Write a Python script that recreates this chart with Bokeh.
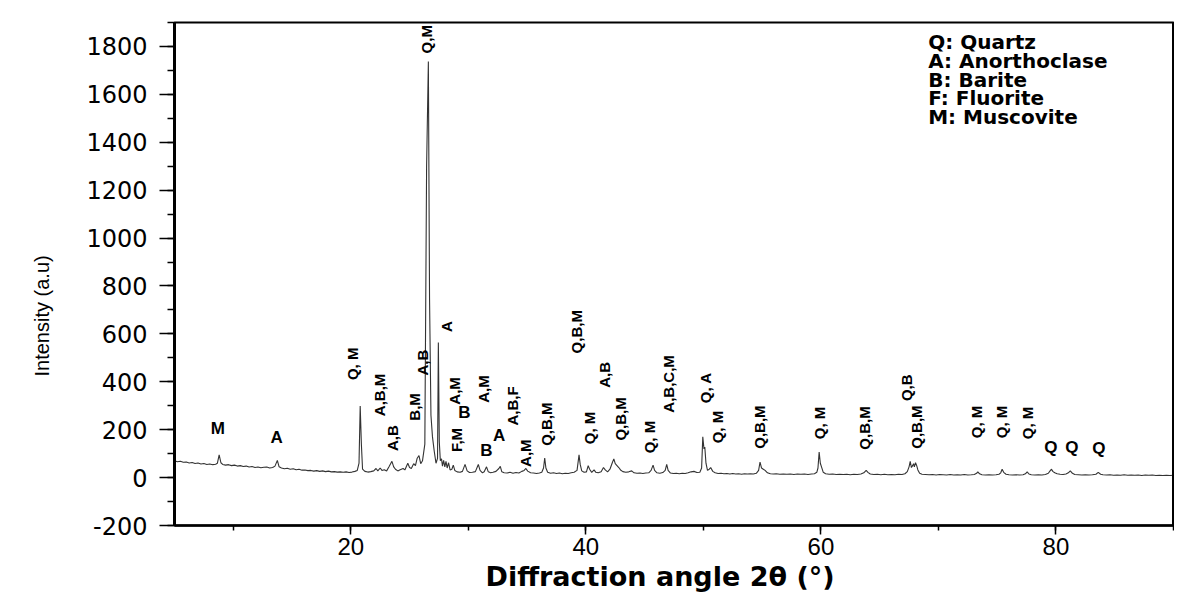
import math
from bokeh.plotting import figure
from bokeh.models import (SingleIntervalTicker, LinearAxis, FixedTicker, Range1d,
                          PrintfTickFormatter, Title)
from bokeh.core.properties import value
from bokeh.embed import file_html
from bokeh.resources import INLINE

# ---- XRD pattern ----
two_theta = [
    5.0, 5.25, 5.5, 5.75, 6.0, 6.25, 6.5, 6.75, 7.0, 7.25, 7.5, 7.75,
    8.0, 8.25, 8.5, 8.65, 8.8, 8.95, 9.1, 9.35, 9.6, 9.85, 10.1, 10.35,
    10.6, 10.85, 11.1, 11.35, 11.6, 11.85, 12.1, 12.35, 12.6, 12.85, 13.1, 13.35,
    13.55, 13.75, 13.9, 14.1, 14.35, 14.6, 14.85, 15.1, 15.35, 15.6, 15.85, 16.1,
    16.35, 16.6, 16.85, 17.1, 17.35, 17.6, 17.85, 18.1, 18.35, 18.6, 18.85, 19.1,
    19.35, 19.6, 19.85, 20.1, 20.35, 20.55, 20.7, 20.8, 20.9, 21.0, 21.2, 21.45,
    21.7, 21.95, 22.15, 22.3, 22.5, 22.65, 22.85, 23.05, 23.25, 23.5, 23.65, 23.8,
    24.0, 24.2, 24.45, 24.6, 24.85, 25.0, 25.15, 25.35, 25.5, 25.65, 25.8, 25.95,
    26.1, 26.3, 26.45, 26.6, 26.7, 26.82, 26.95, 27.1, 27.25, 27.38, 27.45, 27.53,
    27.62, 27.72, 27.8, 27.9, 28.0, 28.1, 28.2, 28.32, 28.45, 28.6, 28.72, 28.85,
    29.05, 29.3, 29.5, 29.72, 29.9, 30.1, 30.35, 30.6, 30.85, 31.0, 31.2, 31.35,
    31.55, 31.7, 31.9, 32.1, 32.35, 32.6, 32.72, 32.85, 33.05, 33.3, 33.55, 33.8,
    34.05, 34.3, 34.55, 34.75, 34.9, 35.05, 35.3, 35.55, 35.8, 36.05, 36.25, 36.4,
    36.5, 36.6, 36.75, 37.0, 37.25, 37.5, 37.75, 38.0, 38.25, 38.5, 38.75, 39.0,
    39.25, 39.42, 39.52, 39.65, 39.85, 40.05, 40.2, 40.32, 40.5, 40.7, 40.85, 41.05,
    41.3, 41.5, 41.65, 41.85, 42.05, 42.25, 42.38, 42.5, 42.65, 42.8, 42.95, 43.15,
    43.4, 43.65, 43.9, 44.1, 44.35, 44.6, 44.85, 45.1, 45.35, 45.55, 45.72, 45.85,
    46.05, 46.3, 46.55, 46.75, 46.88, 47.0, 47.2, 47.45, 47.7, 47.95, 48.2, 48.45,
    48.7, 48.95, 49.2, 49.45, 49.7, 49.85, 49.95, 50.05, 50.12, 50.22, 50.35, 50.5,
    50.62, 50.8, 51.0, 51.25, 51.5, 51.75, 52.0, 52.25, 52.5, 52.75, 53.0, 53.25,
    53.5, 53.75, 54.0, 54.25, 54.5, 54.7, 54.82, 54.95, 55.1, 55.25, 55.45, 55.7,
    55.95, 56.2, 56.5, 56.8, 57.1, 57.4, 57.7, 58.0, 58.3, 58.6, 58.9, 59.2,
    59.45, 59.65, 59.75, 59.85, 59.95, 60.05, 60.2, 60.4, 60.7, 61.0, 61.3, 61.6,
    61.9, 62.2, 62.5, 62.8, 63.1, 63.4, 63.65, 63.85, 64.0, 64.2, 64.5, 64.8,
    65.1, 65.4, 65.7, 66.0, 66.3, 66.6, 66.9, 67.15, 67.35, 67.5, 67.6, 67.7,
    67.8, 67.88, 67.95, 68.05, 68.15, 68.25, 68.4, 68.6, 68.9, 69.2, 69.5, 69.8,
    70.1, 70.4, 70.7, 71.0, 71.3, 71.6, 71.9, 72.2, 72.5, 72.8, 73.05, 73.25,
    73.35, 73.5, 73.7, 74.0, 74.3, 74.6, 74.9, 75.15, 75.3, 75.42, 75.55, 75.75,
    76.0, 76.3, 76.6, 76.9, 77.2, 77.4, 77.55, 77.7, 77.9, 78.2, 78.5, 78.8,
    79.1, 79.35, 79.5, 79.62, 79.75, 79.9, 80.1, 80.35, 80.6, 80.85, 81.05, 81.22,
    81.4, 81.6, 81.9, 82.2, 82.5, 82.8, 83.1, 83.4, 83.6, 83.8, 84.0, 84.3,
    84.6, 84.9, 85.2, 85.5, 85.8, 86.1, 86.4, 86.7, 87.0, 87.3, 87.6, 87.9,
    88.2, 88.5, 88.8, 89.1, 89.4, 89.7, 90.0,
]
intensity = [
    70, 66, 68, 64, 65, 61, 63, 59, 61, 57, 59, 55,
    57, 54, 56, 60, 95, 62, 55, 52, 54, 50, 52, 48,
    50, 46, 48, 44, 46, 42, 44, 41, 43, 44, 40, 42,
    48, 72, 45, 40, 37, 39, 35, 37, 33, 35, 31, 32,
    29, 30, 27, 29, 26, 28, 25, 27, 24, 25, 23, 24,
    22, 24, 21, 23, 26, 30, 60, 299, 140, 35, 26, 23,
    25, 28, 38, 28, 40, 30, 33, 28, 45, 68, 45, 35,
    28, 33, 38, 32, 60, 42, 38, 58, 50, 81, 92, 58,
    70, 140, 1300, 1737, 750, 260, 170, 110, 60, 80, 564, 150,
    70, 78, 48, 72, 45, 68, 40, 62, 32, 35, 52, 30,
    24, 22, 26, 55, 28, 21, 22, 25, 55, 30, 20, 24,
    45, 24, 20, 22, 26, 38, 47, 24, 20, 19, 22, 18,
    21, 19, 26, 30, 38, 27, 20, 19, 17, 19, 22, 40,
    82, 40, 22, 18, 20, 17, 19, 16, 18, 17, 20, 22,
    30, 95, 55, 28, 22, 24, 50, 35, 22, 32, 22, 20,
    24, 42, 32, 24, 35, 62, 78, 58, 50, 42, 32, 25,
    22, 24, 28, 20, 18, 19, 17, 19, 20, 30, 52, 30,
    20, 18, 21, 30, 55, 30, 19, 17, 18, 16, 18, 17,
    20, 24, 26, 21, 22, 40, 170, 120, 128, 60, 30, 35,
    42, 26, 20, 17, 18, 16, 17, 15, 17, 15, 16, 14,
    16, 15, 16, 15, 18, 30, 65, 40, 35, 30, 20, 16,
    15, 16, 14, 15, 14, 15, 13, 15, 14, 15, 13, 15,
    16, 22, 40, 107, 60, 45, 22, 16, 14, 15, 13, 14,
    13, 14, 12, 14, 13, 15, 20, 30, 22, 15, 13, 14,
    12, 14, 12, 13, 12, 14, 13, 16, 25, 45, 68, 42,
    50, 58, 45, 62, 50, 32, 18, 14, 13, 12, 13, 11,
    13, 12, 11, 13, 11, 12, 11, 13, 11, 12, 13, 18,
    24, 16, 12, 11, 12, 11, 12, 14, 20, 35, 22, 14,
    12, 11, 12, 11, 12, 16, 24, 15, 12, 11, 12, 11,
    13, 18, 28, 35, 25, 20, 16, 14, 13, 15, 20, 28,
    18, 13, 12, 11, 12, 11, 12, 14, 22, 14, 12, 11,
    12, 10, 11, 10, 12, 10, 11, 10, 11, 9, 11, 10,
    11, 9, 10, 9, 10, 9, 10,
]

# ---- peak labels: rotated (vertical) ----
rot_text = ["Q,M", "Q, M", "A,B,M", "A,B", "B,M", "A,B", "A", "A,M", "F,M", "A,M",
            "A,B,F", "A,M", "Q,B,M", "Q,B,M", "Q, M", "A,B", "Q,B,M", "Q, M", "A,B,C,M", "Q, A",
            "Q, M", "Q,B,M", "Q, M", "Q,B,M", "Q,B", "Q,B,M", "Q, M", "Q, M", "Q, M"]
rot_x = [26.43, 20.15, 22.44, 23.55, 25.42, 26.10, 28.13, 28.81, 28.98, 31.27,
         33.73, 34.84, 36.62, 39.17, 40.27, 41.55, 42.99, 45.45, 47.07, 50.20,
         51.22, 54.79, 59.88, 63.70, 67.26, 68.11, 73.20, 75.33, 77.54]
rot_y = [1830, 475, 345, 165, 295, 480, 630, 362, 157, 370,
         299, 102, 223, 609, 207, 429, 245, 169, 391, 375,
         211, 211, 228, 207, 375, 211, 232, 232, 228]

# ---- peak labels: horizontal ----
hor_text = ["M", "A", "B", "B", "A", "Q", "Q", "Q"]
hor_x = [8.69, 13.7, 29.66, 31.53, 32.63, 79.57, 81.35, 83.65]
hor_y = [207, 169, 270, 114, 177, 127, 127, 123]

# ---- phase key ----
key_text = ["Q: Quartz", "A: Anorthoclase", "B: Barite", "F: Fluorite", "M: Muscovite"]
key_x = [69.13, 69.13, 69.13, 69.13, 69.13]
key_y = [1817, 1741, 1662, 1586, 1506]

x_title = "Diffraction angle 2\u03b8 (\u00b0)"
y_title = "Intensity (a.u)"

p = figure(width=1174, height=598, x_range=Range1d(5, 90), y_range=Range1d(-200, 1900),
           output_backend="svg", toolbar_location=None,
           min_border_left=174, min_border_right=1, min_border_top=22, min_border_bottom=73)
p.grid.visible = False
p.background_fill_color = "white"
p.border_fill_color = "white"
p.outline_line_color = "black"
p.outline_line_width = 2
p.outline_line_alpha = 1

p.line(two_theta, intensity, line_color="#333333", line_width=1.1)

p.text(x=rot_x, y=rot_y, text=rot_text, angle=math.pi / 2, text_align="center",
       text_baseline="middle", text_font=value("Liberation Sans"), text_font_style="bold",
       text_font_size="15px", text_color="black")
p.text(x=hor_x, y=hor_y, text=hor_text, text_align="center", text_baseline="middle",
       text_font=value("Liberation Sans"), text_font_style="bold", text_font_size="17px",
       text_color="black")
p.text(x=key_x, y=key_y, text=key_text, text_align="left", text_baseline="middle",
       text_font=value("DejaVu Sans"), text_font_style="bold", text_font_size="20px",
       text_color="black")

# axis titles as side titles (allow shifting along the axis)
p.add_layout(Title(text=y_title, align="left", offset=149, vertical_align="middle",
                   standoff=59, text_font="Liberation Sans", text_font_size="20px",
                   text_font_style="normal", text_color="black"), "left")
p.add_layout(Title(text=x_title, align="left", offset=311, vertical_align="bottom",
                   standoff=2, text_font="DejaVu Sans", text_font_size="27px",
                   text_font_style="bold", text_color="black"), "below")

# x axis
xa = p.xaxis[0]
xa.ticker = SingleIntervalTicker(interval=20, num_minor_ticks=2)
xa.major_label_text_font = "Liberation Sans"
xa.major_label_text_font_size = "24px"
xa.major_label_text_color = "black"
xa.major_label_standoff = 3
xa.major_tick_out = 9
xa.major_tick_in = 0
xa.minor_tick_out = 5
xa.minor_tick_in = 0
xa.axis_line_width = 2.5
xa.axis_line_color = "black"
xa.major_tick_line_width = 1.5
xa.minor_tick_line_width = 1.5

# y axis
ya = p.yaxis[0]
ya.ticker = SingleIntervalTicker(interval=200, num_minor_ticks=2)
ya.formatter = PrintfTickFormatter(format="%d")
ya.major_label_text_font = "DejaVu Sans"
ya.major_label_text_font_size = "24px"
ya.major_label_text_color = "black"
ya.major_label_standoff = 12
ya.major_tick_out = 15
ya.major_tick_in = 0
ya.minor_tick_out = 7
ya.minor_tick_in = 0
ya.axis_line_width = 3
ya.axis_line_color = "black"
ya.major_tick_line_width = 1.5
ya.minor_tick_line_width = 1.5

# right frame edge
ra = LinearAxis(ticker=FixedTicker(ticks=[]), axis_line_width=3,
                major_label_text_font_size="0px", major_tick_line_color=None,
                minor_tick_line_color=None)
p.add_layout(ra, "right")

open("out.html", "w").write(file_html(p, INLINE))
